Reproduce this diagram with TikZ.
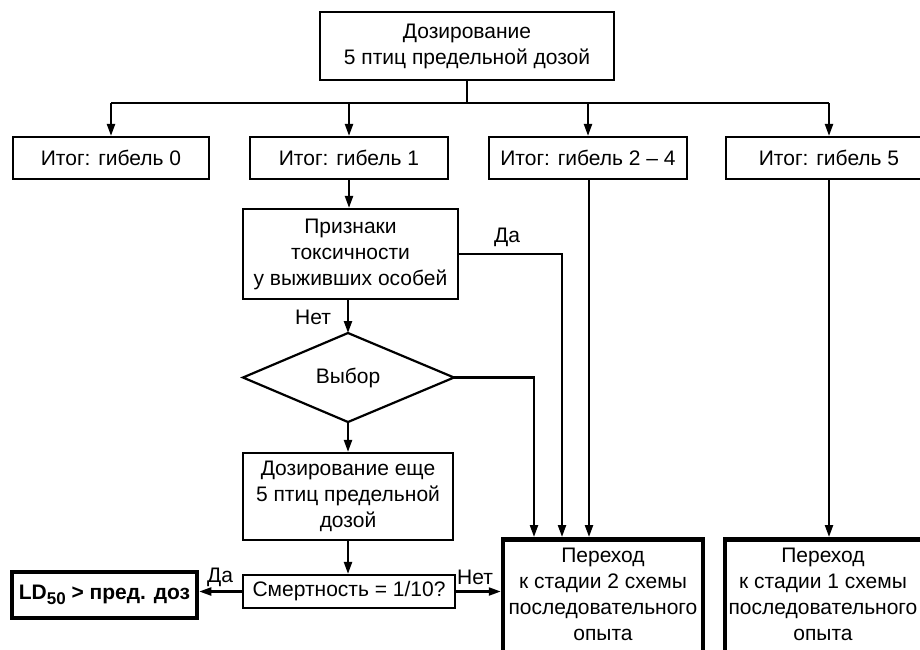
\documentclass[tikz,border=0pt]{standalone}
\usepackage{fontspec}
\setmainfont{Liberation Sans}
\usetikzlibrary{arrows.meta}
\begin{document}
\begin{tikzpicture}[x=1pt,y=-1pt,
  every node/.style={font=\fontsize{21}{26}\selectfont, inner sep=0pt},
  box/.style={draw, line width=2.2pt, align=center},
  heavybox/.style={draw, line width=4.5pt, align=center},
  lab/.style={font=\fontsize{21}{26}\selectfont},
  conn/.style={line width=2.2pt},
  arr/.style={line width=2.2pt, -{Triangle[length=12pt,width=8pt]}}]
\useasboundingbox (0,0) rectangle (920,649);
\clip (0,0) rectangle (920,649);
% nodes
\node[box, minimum width=294pt, minimum height=68pt] (top) at (467,46) {Дозирование\\5 птиц предельной дозой};
\node[box, minimum width=196pt, minimum height=42pt] (b1) at (111,158) {Итог: гибель 0};
\node[box, minimum width=198pt, minimum height=42pt] (b2) at (349,158) {Итог: гибель 1};
\node[box, minimum width=198pt, minimum height=42pt] (b3) at (588,158) {Итог: гибель 2 – 4};
\node[box, minimum width=206pt, minimum height=42pt] (b4) at (829,158) {Итог: гибель 5};
\node[box, minimum width=215pt, minimum height=90pt] (prz) at (350.5,254) {Признаки\\токсичности\\у выживших особей};
% diamond
\coordinate (dt) at (348,333);
\coordinate (db) at (348,422);
\coordinate (dl) at (243,377.5);
\coordinate (dr) at (454,377.5);
\draw[line width=2.2pt, line join=miter] (dt) -- (dr) -- (db) -- (dl) -- cycle;
\node (vyb) at (348,377.5) {Выбор};
\node[box, minimum width=210pt, minimum height=87pt] (doz) at (348,496.5) {Дозирование еще\\5 птиц предельной\\дозой};
\node[box, minimum width=212pt, minimum height=33pt] (smt) at (349,591.5) {Смертность = 1/10?};
\node[heavybox, minimum width=185pt, minimum height=46pt] (ld) at (104.5,595) {\bfseries LD\raisebox{-0.45ex}{\fontsize{17}{17}\selectfont\bfseries 50} > пред. доз};
\node[heavybox, minimum width=200pt, minimum height=160pt, anchor=north] (p2) at (603,537) {};
\node[align=center] (p2t) at (603,594) {Переход\\к стадии 2 схемы\\последовательного\\опыта};
\node[heavybox, minimum width=210pt, minimum height=160pt, anchor=north] (p1) at (830,537) {};
\node[align=center] (p1t) at (823,594) {Переход\\к стадии 1 схемы\\последовательного\\опыта};
% helper coordinates
\coordinate (busy) at (0,103);
\coordinate (xa) at (534,0);
\coordinate (xb) at (562,0);
\coordinate (xc) at (589,0);
% connectors
\draw[conn] (top.south) -- (top.south |- busy);
\draw[conn] (b1.north |- busy) -- (b4.north |- busy);
\draw[arr] (b1.north |- busy) -- (b1.north);
\draw[arr] (b2.north |- busy) -- (b2.north);
\draw[arr] (b3.north |- busy) -- (b3.north);
\draw[arr] (b4.north |- busy) -- (b4.north);
\draw[arr] (b2.south) -- (prz.north -| b2.south);
\draw[arr] (prz.south -| dt) -- (dt);
\draw[arr] (prz.east) -| (p2.north -| xb);
\draw[arr] (dr) -| (p2.north -| xa);
\draw[arr] (b3.south -| xc) -- (p2.north -| xc);
\draw[arr] (b4.south) -- (p1.north -| b4.south);
\draw[arr] (db) -- (doz.north -| db);
\draw[arr] (doz.south -| db) -- (smt.north -| db);
\draw[arr] (smt.west) -- (ld.east |- smt.west);
\draw[arr] (smt.east) -- (p2.west |- smt.east);
% labels
\node[lab] at (507,237) {Да};
\node[lab] at (313,317) {Нет};
\node[lab] at (220,577) {Да};
\node[lab] at (475,577) {Нет};
\end{tikzpicture}
\end{document}
